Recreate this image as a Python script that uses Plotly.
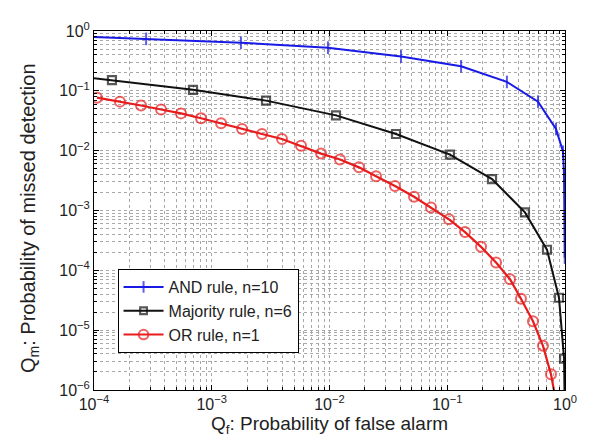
import plotly.graph_objects as go

# ---- data ----
and_pf = [1e-4, 2.77e-4, 1.77e-3, 9.7e-3, 0.0405, 0.131, 0.321, 0.590, 0.839, 0.962, 0.982, 0.995]
and_pm = [0.797, 0.739, 0.636, 0.526, 0.375, 0.257, 0.141, 0.066, 0.023, 9.6e-3, 3.9e-3, 1.63e-4]

maj_pf = [1e-4, 1.42e-4, 6.93e-4, 2.89e-3, 0.01135, 0.0367, 0.1054, 0.240, 0.457, 0.703, 0.889, 0.982, 0.998]
maj_pm = [0.163, 0.151, 0.104, 0.0686, 0.0389, 0.019, 8.6e-3, 3.35e-3, 9.3e-4, 2.21e-4, 3.48e-5, 3.35e-6, 3e-7]

or_pf = [1.06e-4, 1.66e-4, 2.51e-4, 3.71e-4, 5.48e-4, 8.11e-4, 1.20e-3, 1.81e-3, 2.67e-3, 3.95e-3,
         5.73e-3, 8.48e-3, 0.01228, 0.01781, 0.02484, 0.0360, 0.0522, 0.0728, 0.1035, 0.1416,
         0.1936, 0.2597, 0.3412, 0.4227, 0.5346, 0.6501, 0.7603, 0.86]
or_pm = [0.0768, 0.0660, 0.0568, 0.0488, 0.0420, 0.0348, 0.0288, 0.0230, 0.0190, 0.0157,
         0.0121, 8.93e-3, 7.11e-3, 5.26e-3, 3.75e-3, 2.57e-3, 1.70e-3, 1.12e-3, 7.11e-4, 4.36e-4,
         2.47e-4, 1.35e-4, 7.11e-5, 3.35e-5, 1.41e-5, 5.47e-6, 1.83e-6, 5e-7]

series_names = ["AND rule, n=10", "Majority rule, n=6", "OR rule, n=1"]

x_ticks = [1e-4, 1e-3, 1e-2, 1e-1, 1]
x_ticklabels = ["10<sup>−4</sup>", "10<sup>−3</sup>", "10<sup>−2</sup>", "10<sup>−1</sup>", "10<sup>0</sup>"]
y_ticks = [1e-6, 1e-5, 1e-4, 1e-3, 1e-2, 1e-1, 1]
y_ticklabels = ["10<sup>−6</sup>", "10<sup>−5</sup>", "10<sup>−4</sup>", "10<sup>−3</sup>",
                "10<sup>−2</sup>", "10<sup>−1</sup>", "10<sup>0</sup>"]

x_title = "Q<sub>f</sub>: Probability of false alarm"
y_title = "Q<sub>m</sub>: Probability of missed detection"

FONT = "Arial, Liberation Sans, Helvetica, sans-serif"
TXT = "#222222"

def minor_vals(lo, hi):
    vals = []
    for e in range(lo, hi):
        for d in range(2, 10):
            vals.append(d * 10 ** e)
    return vals

fig = go.Figure()

fig.add_trace(go.Scatter(
    x=and_pf, y=and_pm, name=series_names[0], mode="lines+markers",
    line=dict(color="#1a1ae6", width=2),
    marker=dict(symbol="line-ns", size=[0] + [9] * (len(and_pf) - 1),
                line=dict(color="#1a1ae6", width=2), color="#1a1ae6"),
))
fig.add_trace(go.Scatter(
    x=maj_pf, y=maj_pm, name=series_names[1], mode="lines+markers",
    line=dict(color="#111111", width=2),
    marker=dict(symbol="square-open", size=[0] + [8] * (len(maj_pf) - 2) + [0],
                line=dict(color="#111111", width=2.2), color="#111111"),
))
fig.add_trace(go.Scatter(
    x=or_pf, y=or_pm, name=series_names[2], mode="lines+markers",
    line=dict(color="#e81c1c", width=2.2),
    marker=dict(symbol="circle-open", size=[10] * (len(or_pf) - 1) + [0],
                line=dict(color="#e81c1c", width=2), color="#e81c1c"),
))

grid_col = "#a8a8a8"
axis_common = dict(
    type="log", showline=True, linecolor="black", linewidth=1, mirror="allticks",
    ticks="inside", ticklen=5, tickcolor="black",
    showgrid=True, gridcolor=grid_col, griddash="dot", gridwidth=1,
    zeroline=False,
    tickfont=dict(family=FONT, size=16, color=TXT),
)

fig.update_xaxes(
    **axis_common, range=[-4, 0], tickvals=x_ticks, ticktext=x_ticklabels,
    minor=dict(tickvals=minor_vals(-4, 0), ticks="inside", ticklen=3, tickcolor="black",
               showgrid=True, gridcolor=grid_col, griddash="dot", gridwidth=1),
    title=dict(text=x_title, font=dict(family=FONT, size=19, color=TXT), standoff=2),
)
fig.update_yaxes(
    **axis_common, range=[-6, 0], tickvals=y_ticks, ticktext=y_ticklabels,
    minor=dict(tickvals=minor_vals(-6, 0), ticks="inside", ticklen=3, tickcolor="black",
               showgrid=True, gridcolor=grid_col, griddash="dot", gridwidth=1),
)

fig.add_annotation(
    text=y_title, textangle=-90, showarrow=False,
    xref="paper", yref="paper", x=-0.138, y=0.479, xanchor="center", yanchor="middle",
    font=dict(family=FONT, size=20, color=TXT),
)

fig.update_layout(
    width=592, height=440,
    margin=dict(l=86, r=35, t=17, b=58),
    paper_bgcolor="white", plot_bgcolor="white",
    font=dict(family=FONT, size=16, color=TXT),
    legend=dict(x=0.05, y=0.337, xanchor="left", yanchor="top",
                bgcolor="white", bordercolor="black", borderwidth=1,
                font=dict(family=FONT, size=16, color=TXT),
                tracegroupgap=0, itemwidth=40),
    showlegend=True,
)

fig.write_html("out.html")
